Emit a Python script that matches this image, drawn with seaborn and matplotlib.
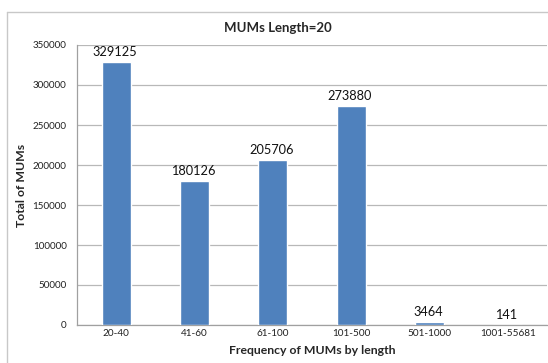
import matplotlib
matplotlib.use('Agg')
import matplotlib.pyplot as plt
import seaborn as sns
import numpy as np
import pandas as pd
from matplotlib.lines import Line2D

# data
ranges = ['20-40', '41-60', '61-100', '101-500', '501-1000', '1001-55681']
totals = [329125, 180126, 205706, 273880, 3464, 141]
y_ticks = [0, 50000, 100000, 150000, 200000, 250000, 300000, 350000]

df = pd.DataFrame({'range': ranges, 'total': totals})

sns.set_style('white')
plt.rcParams['font.family'] = ['Lato', 'DejaVu Sans']

fig = plt.figure(figsize=(5.48, 3.63), dpi=100)
ax = fig.add_axes([77 / 548, 1 - 325 / 363, 470 / 548, 280 / 363])

sns.barplot(data=df, x='range', y='total', color='#4F81BD', width=0.37,
            saturation=1, ax=ax, zorder=3)

ax.set_ylim(0, 350000)
ax.set_xlim(-0.5, 5.5)
ax.set_yticks(y_ticks)
ax.set_yticklabels([str(v) for v in y_ticks], fontsize=7.1, color='#222222')
ax.tick_params(axis='x', which='major', length=0, labelsize=7.2, pad=3, colors='#222222')
ax.set_xticks(np.arange(-0.5, 6, 1), minor=True)
ax.tick_params(axis='x', which='minor', length=3.5, color='#A0A0A0', width=0.8)
ax.tick_params(axis='y', length=3.5, color='#A0A0A0', width=0.8, pad=4)
ax.yaxis.grid(True, color='#B8B8B8', linewidth=0.9, zorder=0)
ax.set_axisbelow(True)

for side in ['top', 'right']:
    ax.spines[side].set_visible(False)
for side in ['left', 'bottom']:
    ax.spines[side].set_color('#A0A0A0')
    ax.spines[side].set_linewidth(0.9)

# value labels on top of bars
for i, v in enumerate(totals):
    ax.text(i - 0.02, v + 5000, str(v), ha='center', va='bottom', fontsize=9.2, color='#111111')

ax.set_xlabel('Frequency of MUMs by length', fontsize=8.8, fontweight='bold', labelpad=5)
ax.set_ylabel('Total of MUMs', fontsize=8.8, fontweight='bold')
ax.yaxis.set_label_coords(-0.107, 0.5)
fig.text(0.5 * (7 + 548) / 548, 1 - 28 / 363, 'MUMs Length=20', ha='center', va='center',
         fontsize=9.5, fontweight='bold')

# chart border (left and top edges visible)
fig.add_artist(Line2D([7 / 548, 7 / 548], [0, 1 - 12 / 363], color='#C8C8C8', linewidth=1,
                      transform=fig.transFigure))
fig.add_artist(Line2D([7 / 548, 1], [1 - 12 / 363, 1 - 12 / 363], color='#C8C8C8', linewidth=1,
                      transform=fig.transFigure))

fig.savefig('out.png', dpi=100)
